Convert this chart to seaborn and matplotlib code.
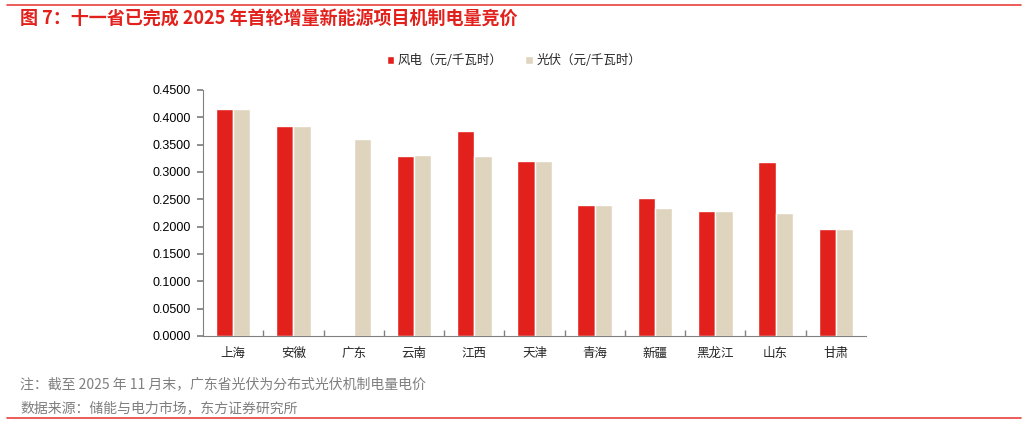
import numpy as np
import pandas as pd
import matplotlib
matplotlib.use("Agg")
import matplotlib.pyplot as plt
import seaborn as sns
from matplotlib.lines import Line2D
from matplotlib.ticker import FormatStrFormatter, FixedLocator

provinces = ["上海", "安徽", "广东", "云南", "江西", "天津", "青海", "新疆", "黑龙江", "山东", "甘肃"]
wind = [0.415, 0.384, np.nan, 0.330, 0.375, 0.320, 0.240, 0.252, 0.228, 0.319, 0.195]
solar = [0.415, 0.384, 0.360, 0.332, 0.330, 0.320, 0.240, 0.235, 0.228, 0.225, 0.195]
series_names = ["风电（元/千瓦时）", "光伏（元/千瓦时）"]
yticks = [0.0, 0.05, 0.10, 0.15, 0.20, 0.25, 0.30, 0.35, 0.40, 0.45]

title = "图 7：十一省已完成 2025 年首轮增量新能源项目机制电量竞价"
note = "注：截至 2025 年 11 月末，广东省光伏为分布式光伏机制电量电价"
source = "数据来源：储能与电力市场，东方证券研究所"

RED = "#E2211C"
TAN = "#DFD4BD"

df = pd.DataFrame({
    "省份": provinces * 2,
    "电价": wind + solar,
    "类型": [series_names[0]] * len(provinces) + [series_names[1]] * len(provinces),
})

sns.set_theme(style="white")
plt.rcParams["font.family"] = ["Noto Sans CJK SC", "DejaVu Sans"]

fig = plt.figure(figsize=(10.28, 4.25), dpi=100)
ax = fig.add_axes([203 / 1028, 1 - 336 / 425, (866 - 203) / 1028, (336 - 90) / 425])

sns.barplot(data=df, x="省份", y="电价", hue="类型", hue_order=series_names,
            palette=[RED, TAN], width=0.575, gap=0, saturation=1,
            ax=ax, legend=True)

ax.set_ylim(0, 0.45)
ax.set_xlim(-0.5, len(provinces) - 0.5)
ax.yaxis.set_major_locator(FixedLocator(yticks))
ax.yaxis.set_major_formatter(FormatStrFormatter("%.4f"))
ax.set_xlabel("")
ax.set_ylabel("")
for s in ["top", "right"]:
    ax.spines[s].set_visible(False)
for s in ["left", "bottom"]:
    ax.spines[s].set_color("#808080")
    ax.spines[s].set_linewidth(0.8)
ax.tick_params(axis="y", which="major", direction="out", length=4, color="#808080",
               labelsize=9, labelcolor="#000000", left=True, pad=5)
ax.tick_params(axis="x", which="major", length=0, labelsize=9, pad=8)
ax.xaxis.set_minor_locator(FixedLocator(np.arange(0.5, len(provinces) - 0.5, 1)))
ax.tick_params(axis="x", which="minor", direction="in", length=4, color="#808080", bottom=True)
for lab in ax.get_yticklabels():
    lab.set_family("Liberation Sans")

handles, labels = ax.get_legend_handles_labels()
ax.get_legend().remove()
fig.legend(handles, labels, loc="center", bbox_to_anchor=(514 / 1028, 1 - 61 / 425),
           ncol=2, frameon=False, fontsize=9, handlelength=0.6, handleheight=0.6,
           handletextpad=0.3, columnspacing=1.8)

fig.text(20 / 1028, 1 - 19 / 425, title, color=RED, fontsize=13, fontweight="bold",
         va="center", ha="left")
fig.text(20 / 1028, 1 - 384 / 425, note, color="#7F7F7F", fontsize=10, va="center", ha="left")
fig.text(20 / 1028, 1 - 408 / 425, source, color="#7F7F7F", fontsize=10, va="center", ha="left")

fig.add_artist(Line2D([7 / 1028, 1021 / 1028], [1 - 5 / 425, 1 - 5 / 425], color="#E8413C", lw=1.2))
fig.add_artist(Line2D([7 / 1028, 1021 / 1028], [1 - 418 / 425, 1 - 418 / 425], color="#E8413C", lw=1.2))

fig.savefig("out.png", dpi=100)
